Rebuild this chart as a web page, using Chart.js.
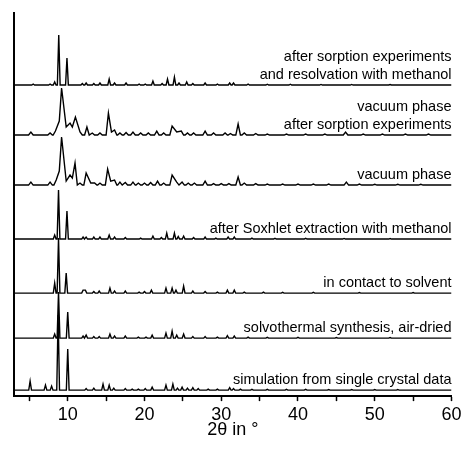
<!DOCTYPE html>
<html>
<head>
<meta charset="utf-8">
<script src="https://cdn.jsdelivr.net/npm/chart.js@4"></script>
<style>
  html, body { margin: 0; padding: 0; background: #fff; }
  #wrap { width: 463px; height: 449px; }
</style>
</head>
<body>
<div id="wrap"><canvas id="pxrdChart"></canvas></div>
<script>
// peak lists [2theta, intensity], bottom trace first
const simPeaks = [[5.1, 9], [7.1, 5], [7.9, 4], [8.75, 75], [10.0, 41], [12.4, 1.5], [13.4, 2], [14.6, 6], [15.4, 5],
  [16.0, 2], [17.5, 1.5], [18.4, 1], [19.2, 1], [20.1, 1.5], [21.0, 3], [22.8, 5], [23.7, 6], [24.3, 2], [24.9, 3],
  [25.6, 2], [26.3, 2.5], [27.0, 1.5], [28.3, 1], [29.5, 1], [31.1, 2.5], [31.6, 1.5], [32.5, 1], [34, 0.8],
  [36, 0.8], [38.5, 0.8], [41, 0.8], [44, 0.6], [47, 0.6], [50, 0.6], [53, 0.5]];
const airDriedPeaks = [[8.3, 4], [8.8, 46], [10.0, 26], [12.0, 2], [12.4, 3], [13.4, 1.5], [14.1, 1.5], [15.5, 4],
  [16.1, 2], [17.5, 2], [19.2, 1], [20.2, 1], [21.0, 3], [22.8, 5], [23.6, 7], [24.2, 3], [25.1, 4], [26.3, 1.5],
  [27.9, 1.5], [29.5, 1], [30.8, 2.5], [31.7, 2], [33.5, 1], [36, 0.8], [40, 0.8], [45, 0.6], [52, 0.5]];
const solventPeaks = [[8.3, 10], [8.8, 55], [9.8, 20], [12.0, 3], [12.3, 3], [13.4, 1.5], [14.1, 2], [15.5, 5],
  [16.1, 2], [17.5, 2], [19.3, 1], [20.0, 1.5], [20.9, 3], [22.8, 5], [23.6, 5], [24.1, 3], [25.1, 7], [26.3, 2],
  [27.9, 1.5], [29.5, 1], [30.8, 3], [31.7, 3], [33, 1], [35.5, 1], [38, 0.8], [42, 0.8], [48, 0.6], [55, 0.6]];
const soxhletPeaks = [[8.3, 4], [8.8, 49], [9.9, 28], [12.0, 2], [12.4, 2], [13.4, 2], [14.2, 2], [15.4, 4],
  [16.1, 2], [17.5, 1.5], [19.5, 1], [21.1, 3], [22.2, 1.5], [22.9, 6], [23.9, 6], [24.4, 2.5], [25.1, 3],
  [26.4, 1.5], [27.9, 2], [29.3, 1], [30.9, 2], [31.7, 2], [34, 1], [37, 0.8], [41, 0.8], [46, 0.6], [52, 0.5]];
const vacuumPeaks = [[5.2, 3], [7.7, 3], [8.5, 5], [8.9, 14], [9.2, 48], [9.8, 4], [10.3, 10], [10.6, 7], [10.95, 22],
  [11.6, 2], [12.4, 12], [13.0, 2], [13.5, 2], [14.2, 2], [15.2, 16], [15.6, 4], [16.1, 5], [16.8, 3], [17.5, 2.5],
  [18.5, 3], [19.2, 2], [20.0, 2], [20.8, 2.5], [21.7, 4], [22.5, 2], [23.6, 10], [24.2, 3], [24.9, 3], [25.7, 2],
  [26.5, 2], [27.9, 4], [29, 1.5], [30, 1.5], [31.0, 1.5], [32.2, 8], [33, 2], [34.5, 1.5], [36, 1], [38, 1],
  [40, 1], [42, 1], [44, 1], [46.3, 3], [48, 1], [50, 0.8], [53, 0.8], [56, 0.8]];
const vacuumSorpPeaks = [[5.2, 3], [7.7, 2], [8.4, 4], [8.9, 14], [9.2, 47], [9.8, 8], [10.3, 12], [10.6, 8],
  [11.0, 18], [11.6, 3], [12.5, 8], [13.2, 2], [14.2, 2], [15.3, 22], [15.7, 3], [16.1, 5], [16.8, 2], [17.6, 2.5],
  [18.5, 3], [19.5, 2], [20.5, 2], [21.6, 4], [22.5, 2], [23.6, 9], [24.2, 3], [24.8, 4], [25.6, 2], [26.4, 2],
  [27.9, 4], [29, 2], [30.5, 2], [31.2, 1.5], [32.2, 11], [33, 2], [34.5, 1.5], [36, 1], [38.5, 1], [41, 1],
  [43.5, 1], [46.2, 3], [48.5, 1], [51, 1], [54, 1], [57, 1]];
const resolvPeaks = [[5.5, 1], [7.7, 1], [8.3, 3], [8.83, 50], [9.9, 27], [11.9, 1.5], [12.4, 2], [13.4, 1.5],
  [14.2, 2], [15.4, 6], [16.1, 2], [17.6, 2], [19.3, 1], [20.1, 1], [21.1, 4], [22.3, 1.5], [23.0, 6], [23.9, 8],
  [24.5, 2], [25.5, 3], [26.3, 1.5], [27.9, 2], [29.5, 1], [31.1, 2], [31.6, 2], [33.5, 1], [36, 0.8], [39, 0.8],
  [43, 0.6], [47, 0.6], [52, 0.5]];

const traces = [simPeaks, airDriedPeaks, solventPeaks, soxhletPeaks, vacuumPeaks, vacuumSorpPeaks, resolvPeaks];
const offsets = [6, 58, 103, 157, 211, 261, 311];
const peakWidths = [0.18, 0.18, 0.18, 0.18, 0.3, 0.3, 0.18];
const labels = [
  ['simulation from single crystal data'],
  ['solvothermal synthesis, air-dried'],
  ['in contact to solvent'],
  ['after Soxhlet extraction with methanol'],
  ['vacuum phase'],
  ['vacuum phase', 'after sorption experiments'],
  ['after sorption experiments', 'and resolvation with methanol']
];
const xMin = 3, xMax = 60;

// stick peaks -> polyline on the trace's own baseline
function buildTrace(peaks, off, w) {
  const pts = [{x: xMin, y: off}];
  peaks.forEach((p, i) => {
    const prev = peaks[i - 1], next = peaks[i + 1];
    if (!prev || prev[0] + w < p[0] - w) pts.push({x: p[0] - w, y: off});
    pts.push({x: p[0], y: off + p[1]});
    if (!next || next[0] - w > p[0] + w) pts.push({x: p[0] + w, y: off});
  });
  pts.push({x: xMax, y: off});
  return pts;
}

const traceLabels = {
  id: 'traceLabels',
  afterDatasetsDraw(chart) {
    const {ctx, scales: {x, y}} = chart;
    ctx.save();
    ctx.font = '14.5px "Liberation Sans", Arial, sans-serif';
    ctx.fillStyle = '#000';
    ctx.textAlign = 'right';
    ctx.textBaseline = 'middle';
    labels.forEach((lines, i) => {
      const base = y.getPixelForValue(offsets[i]);
      lines.slice().reverse().forEach((t, j) => {
        ctx.fillText(t, x.getPixelForValue(xMax), base - 10 - j * 18);
      });
    });
    ctx.restore();
  }
};

document.addEventListener('DOMContentLoaded', function () {
  new Chart(document.getElementById('pxrdChart').getContext('2d'), {
    type: 'scatter',
    data: {
      datasets: traces.map((t, i) => ({
        data: buildTrace(t, offsets[i], peakWidths[i]),
        showLine: true, borderColor: '#000', borderWidth: 1.4, pointRadius: 0, tension: 0
      }))
    },
    options: {
      responsive: true, maintainAspectRatio: false, animation: false,
      layout: { padding: { left: 14, top: 13, right: 11.5, bottom: 17.8 } },
      plugins: { legend: { display: false }, tooltip: { enabled: false } },
      scales: {
        x: {
          type: 'linear', min: xMin, max: xMax,
          afterFit: s => { s.paddingRight = 0; },
          border: { display: true, color: '#000', width: 2 },
          grid: { drawOnChartArea: false, drawTicks: true, tickLength: 5, tickColor: '#000', tickWidth: 1.5 },
          ticks: {
            stepSize: 5, includeBounds: false, autoSkip: false, maxRotation: 0, padding: 5.5, color: '#000',
            font: { family: '"Liberation Sans", Arial, sans-serif', size: 18, lineHeight: 0.94 },
            callback: v => (v % 10 === 0 ? v : '')
          },
          title: {
            display: true, text: '2θ in °', color: '#000', padding: 0,
            font: { family: '"Liberation Sans", Arial, sans-serif', size: 18, lineHeight: 0.12 }
          }
        },
        y: {
          min: 0, max: 383,
          border: { display: true, color: '#000', width: 2 },
          grid: { display: false, drawTicks: false },
          ticks: { display: false }
        }
      }
    },
    plugins: [traceLabels]
  });
});
</script>
</body>
</html>
